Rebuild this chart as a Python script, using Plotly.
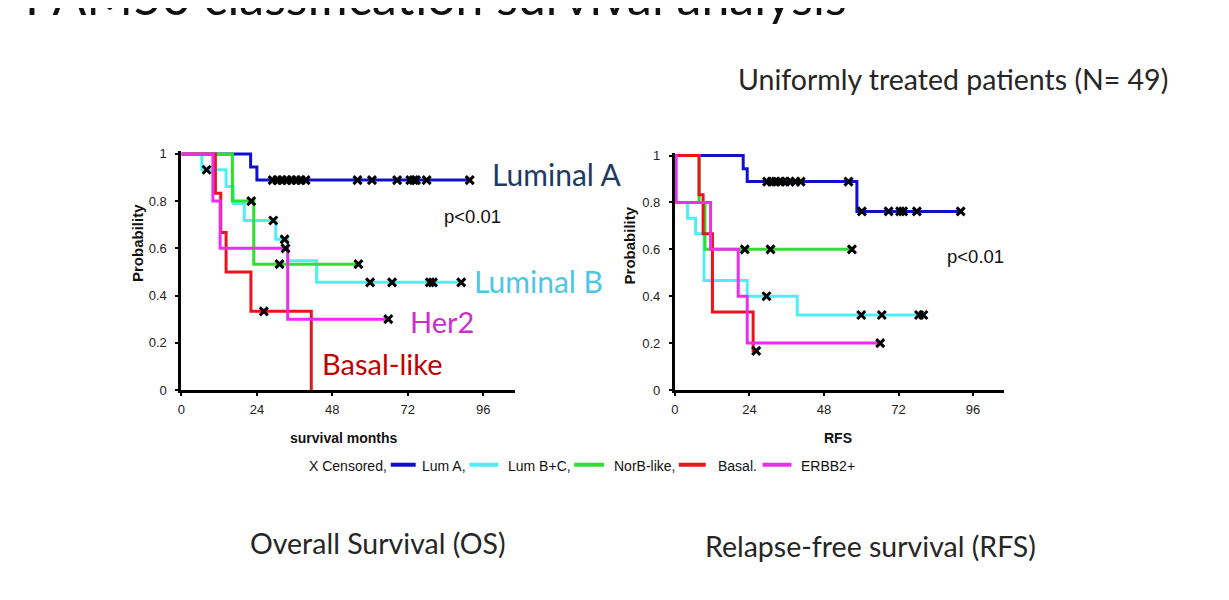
import plotly.graph_objects as go

W, H = 1229, 600

# ---------------- data ----------------
group_names = ["Lum A", "Lum B+C", "NorB-like", "Basal", "ERBB2+"]
group_colors = ["#1010CC", "#4EEFF2", "#2EE02E", "#E8141E", "#EC2EEC"]

# Overall survival (months) - step points
os_lumA_t = [0, 22, 24, 92]
os_lumA_s = [1, 0.944, 0.889, 0.889]
os_lumB_t = [0, 6.5, 14.2, 16.5, 20, 30, 33.7, 43, 89]
os_lumB_s = [1, 0.933, 0.862, 0.79, 0.718, 0.638, 0.547, 0.456, 0.456]
os_norB_t = [0, 16.2, 23, 56.3]
os_norB_s = [1, 0.8, 0.533, 0.533]
os_basal_t = [0, 10.8, 12.5, 14.2, 22.1, 41.3]
os_basal_s = [1, 0.833, 0.667, 0.5, 0.333, 0]
os_her2_t = [0, 10.0, 12.3, 33.8, 66.2]
os_her2_s = [1, 0.8, 0.6, 0.3, 0.3]

# Overall survival censored observations
os_cens_lumA_t = [29, 30.5, 32, 33.5, 35, 36.5, 38, 39.5, 56, 60.6, 68.6, 72.8, 73.9, 74.6, 78, 91.7]
os_cens_lumA_s = [0.889] * 16
os_cens_lumB_t = [8, 29.2, 32.8, 60, 67, 79, 80, 89]
os_cens_lumB_s = [0.933, 0.718, 0.638, 0.456, 0.456, 0.456, 0.456, 0.456]
os_cens_norB_t = [22.2, 31.2, 56.3]
os_cens_norB_s = [0.8, 0.533, 0.533]
os_cens_basal_t = [26.2]
os_cens_basal_s = [0.333]
os_cens_her2_t = [33.1, 65.8]
os_cens_her2_s = [0.6, 0.3]

# Relapse-free survival (months) - step points
rfs_lumA_t = [0, 22, 23.3, 58.6, 92]
rfs_lumA_s = [1, 0.944, 0.889, 0.762, 0.762]
rfs_lumB_t = [0, 0.4, 4.1, 6.7, 9.4, 23.3, 39.4, 80.5]
rfs_lumB_s = [1, 0.8, 0.733, 0.667, 0.467, 0.4, 0.32, 0.32]
rfs_norB_t = [0, 7.8, 9.7, 57]
rfs_norB_s = [1, 0.8, 0.6, 0.6]
rfs_basal_t = [0, 7.8, 9.1, 12.1, 25.2, 26.2]
rfs_basal_s = [1, 0.833, 0.667, 0.333, 0.167, 0.167]
rfs_her2_t = [0, 0.4, 11.5, 20.4, 23.3, 66.1]
rfs_her2_s = [1, 0.8, 0.6, 0.4, 0.2, 0.2]

rfs_cens_lumA_t = [29.7, 31.2, 32.5, 34, 35.5, 37, 38.8, 40.5, 55.9, 60.2, 68.8, 72.5, 73.5, 77.9, 92]
rfs_cens_lumA_s = [0.889] * 9 + [0.762] * 6
rfs_cens_lumB_t = [29.5, 60, 66.6, 78.6, 80]
rfs_cens_lumB_s = [0.4, 0.32, 0.32, 0.32, 0.32]
rfs_cens_norB_t = [22.5, 30.8, 57]
rfs_cens_norB_s = [0.6, 0.6, 0.6]
rfs_cens_basal_t = [26.2]
rfs_cens_basal_s = [0.167]
rfs_cens_her2_t = [66.1]
rfs_cens_her2_s = [0.2]

x_ticks = [0, 24, 48, 72, 96]
y_ticks = [0, 0.2, 0.4, 0.6, 0.8, 1]
y_ticktext = ["0", "0.2", "0.4", "0.6", "0.8", "1"]
legend_labels = ["Lum A,", "Lum B+C,", "NorB-like,", "Basal.", "ERBB2+"]

os_curves = [(os_lumA_t, os_lumA_s), (os_lumB_t, os_lumB_s), (os_norB_t, os_norB_s),
             (os_basal_t, os_basal_s), (os_her2_t, os_her2_s)]
os_cens = [(os_cens_lumA_t, os_cens_lumA_s), (os_cens_lumB_t, os_cens_lumB_s),
           (os_cens_norB_t, os_cens_norB_s), (os_cens_basal_t, os_cens_basal_s),
           (os_cens_her2_t, os_cens_her2_s)]
rfs_curves = [(rfs_lumA_t, rfs_lumA_s), (rfs_lumB_t, rfs_lumB_s), (rfs_norB_t, rfs_norB_s),
              (rfs_basal_t, rfs_basal_s), (rfs_her2_t, rfs_her2_s)]
rfs_cens = [(rfs_cens_lumA_t, rfs_cens_lumA_s), (rfs_cens_lumB_t, rfs_cens_lumB_s),
            (rfs_cens_norB_t, rfs_cens_norB_s), (rfs_cens_basal_t, rfs_cens_basal_s),
            (rfs_cens_her2_t, rfs_cens_her2_s)]

# ---------------- figure ----------------
fig = go.Figure()

for (xa, ya, curves, cens) in [("x", "y", os_curves, os_cens), ("x2", "y2", rfs_curves, rfs_cens)]:
    for (t, s), col, name in zip(curves, group_colors, group_names):
        fig.add_trace(go.Scatter(x=t, y=s, mode="lines", line=dict(color=col, width=3, shape="hv"),
                                 xaxis=xa, yaxis=ya, name=name, showlegend=False, hoverinfo="skip"))
    for (t, s) in cens:
        fig.add_trace(go.Scatter(x=t, y=s, mode="markers",
                                 marker=dict(symbol="x-thin", size=8, color="black",
                                             line=dict(color="black", width=3)),
                                 xaxis=xa, yaxis=ya, showlegend=False, hoverinfo="skip", cliponaxis=False))

# page offset compensation (target pixel -> layout pixel)
AX, BX = 1.0, 10.0
AY, BY = 0.988, 10.3


def cx(x):
    return (x - BX) / AX


def cy(y):
    return (y - BY) / AY


def px(x):
    return cx(x) / W


def py(y):
    return 1 - cy(y) / H


XR = [0, 106]
YR = [0, 1.012]


def xdom(px0, ppu):
    return [px(px0 + XR[0] * ppu), px(px0 + XR[1] * ppu)]


def ydom(py0, ppu):
    return [py(py0 - YR[0] * ppu), py(py0 - YR[1] * ppu)]


arial = "Liberation Sans, Arial"
tick_font = dict(family=arial, size=13, color="#222222")
axis_common = dict(showline=True, linewidth=3, linecolor="black", ticks="outside", ticklen=3,
                   tickwidth=2, tickcolor="black", showgrid=False, zeroline=False,
                   tickfont=tick_font, fixedrange=True)

fig.update_layout(
    xaxis=dict(domain=xdom(180.0, 3.154), range=XR, tickvals=x_ticks, anchor="y",
               ticklabelstandoff=2, **axis_common),
    yaxis=dict(domain=ydom(391.0, 238.4), range=YR, tickvals=y_ticks, ticktext=y_ticktext, anchor="x",
               ticklabelstandoff=6, **axis_common),
    xaxis2=dict(domain=xdom(675.0, 3.117), range=XR, tickvals=x_ticks, anchor="y2",
                ticklabelstandoff=2, **axis_common),
    yaxis2=dict(domain=ydom(391.0, 236.7), range=YR, tickvals=y_ticks, ticktext=y_ticktext, anchor="x2",
                ticklabelstandoff=6, **axis_common),
    width=W, height=H, margin=dict(l=0, r=0, t=0, b=0),
    paper_bgcolor="white", plot_bgcolor="white", showlegend=False,
)

annotations = []


def add_text(text, x, y, size, color, family="Lato", xanchor="center", yanchor="middle", bold=False, angle=0):
    if bold:
        text = "<b>" + text + "</b>"
    annotations.append(dict(text=text, x=px(x), y=py(y), xref="paper", yref="paper", showarrow=False,
                            xanchor=xanchor, yanchor=yanchor, textangle=angle,
                            font=dict(family=family, size=size, color=color)))


# title (cut at the top edge)
add_text("PAM50 classification survival analysis", 21, 25, 50, "#111111", xanchor="left", yanchor="bottom")
add_text("Uniformly treated patients (N= 49)", 954, 77, 28.5, "#262626")
add_text("Overall Survival (OS)", 377, 546, 28.5, "#262626")
add_text("Relapse-free survival (RFS)", 871, 549, 28.5, "#262626")

# in-plot labels
add_text("Luminal A", 490, 172.5, 30, "#1F3A60", xanchor="left")
add_text("Luminal B", 472, 280.5, 30, "#4CC6E6", xanchor="left")
add_text("Her2", 407, 322, 29, "#CC2ECC", xanchor="left")
add_text("Basal-like", 319, 364, 29, "#C00000", xanchor="left")
add_text("p<0.01", 472, 216, 18.5, "#111111", family=arial)
add_text("p<0.01", 977, 256, 18.5, "#111111", family=arial)

# axis titles
add_text("survival months", 343, 439.5, 14, "#111111", family=arial, bold=True)
add_text("RFS", 839, 439.5, 14, "#111111", family=arial, bold=True)
add_text("Probability", 136, 243, 15, "#111111", family=arial, bold=True, angle=-90)
add_text("Probability", 629, 245, 15, "#111111", family=arial, bold=True, angle=-90)

# legend
add_text("X Censored,", 306, 467.5, 14, "#111111", family=arial, xanchor="left")
bar_x = [(390, 415), (469, 498), (574, 604), (679, 706), (763, 792)]
label_x = [419, 506, 612, 716, 800]
shapes = []
for (x0, x1), lx, lab, col in zip(bar_x, label_x, legend_labels, group_colors):
    shapes.append(dict(type="line", xref="paper", yref="paper", x0=px(x0), x1=px(x1), y0=py(466.5),
                       y1=py(466.5), line=dict(color=col, width=4)))
    add_text(lab, lx, 467.5, 14, "#111111", family=arial, xanchor="left")

fig.update_layout(annotations=annotations, shapes=shapes)

fig.write_html("out.html")
